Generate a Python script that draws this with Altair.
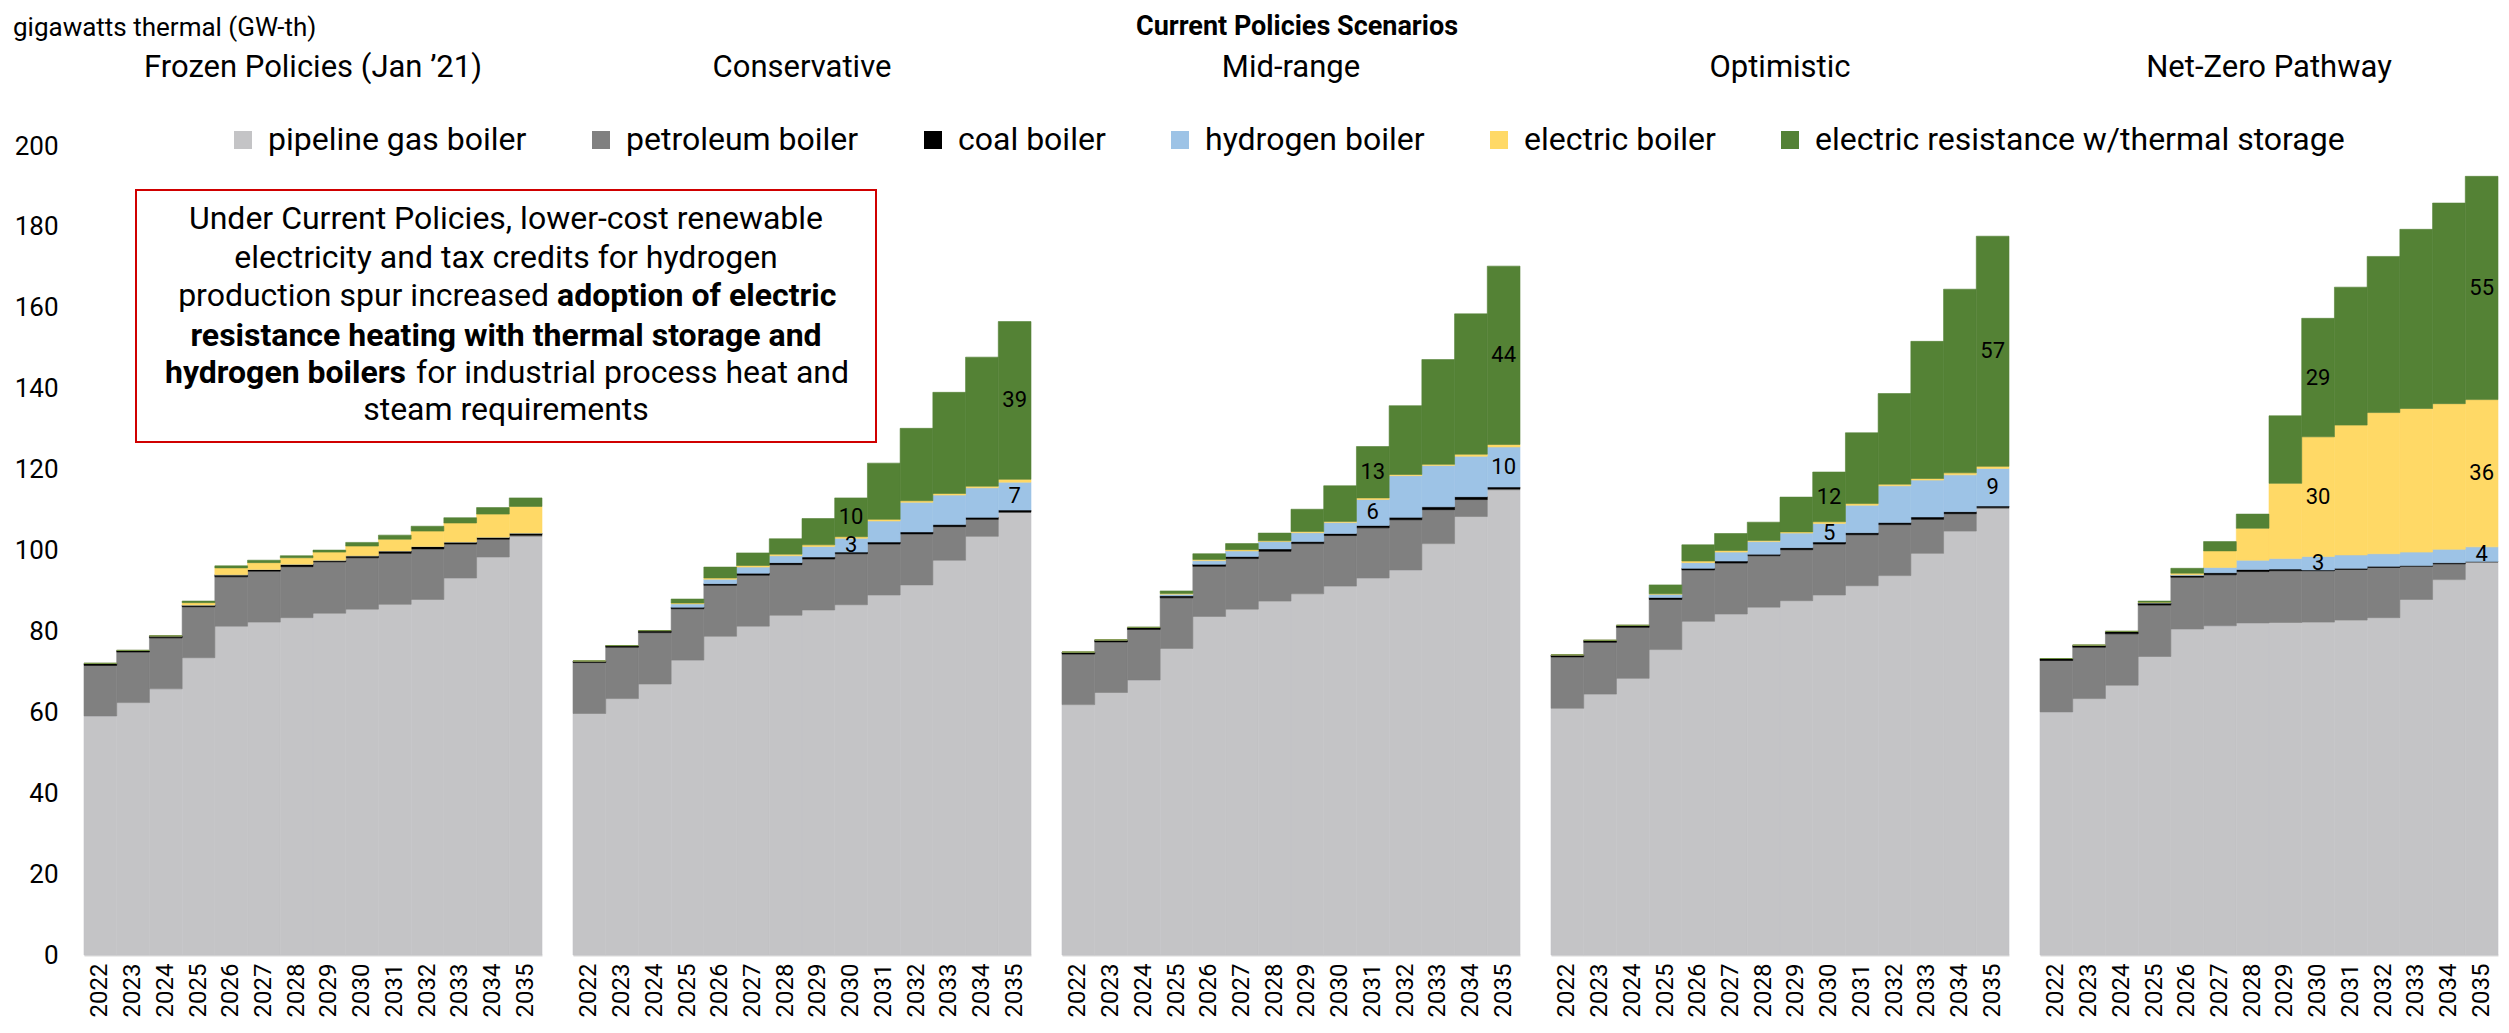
import altair as alt
import pandas as pd

years = list(range(2022, 2036))
scenarios = ["Frozen Policies (Jan ’21)", "Conservative", "Mid-range", "Optimistic", "Net-Zero Pathway"]
series = ["pipeline gas boiler", "petroleum boiler", "coal boiler", "hydrogen boiler",
          "electric boiler", "electric resistance w/thermal storage"]
colors = ["#C4C4C6", "#808080", "#000000", "#9DC3E6", "#FFD966", "#548235"]

# Frozen Policies (Jan '21)
frozen_gas = [59.1, 62.4, 65.8, 73.5, 81.3, 82.3, 83.4, 84.5, 85.5, 86.7, 87.9, 93.2, 98.4, 103.5]
frozen_pet = [12.5, 12.5, 12.6, 12.6, 12.2, 12.6, 12.6, 12.7, 12.7, 12.6, 12.5, 8.4, 4.4, 0.3]
frozen_coal = [0.5, 0.4, 0.5, 0.4, 0.5, 0.4, 0.6, 0.4, 0.5, 0.6, 0.6, 0.5, 0.5, 0.5]
frozen_h2 = [0, 0, 0, 0, 0, 0, 0, 0, 0, 0, 0, 0, 0, 0]
frozen_eb = [0, 0, 0, 0.6, 1.7, 1.7, 1.6, 2.0, 2.4, 2.9, 3.8, 4.7, 5.7, 6.6]
frozen_er = [0, 0, 0, 0.4, 0.5, 0.6, 0.5, 0.5, 0.9, 1.0, 1.2, 1.3, 1.6, 2.1]

# Conservative
cons_gas = [59.7, 63.4, 67.0, 72.9, 78.8, 81.3, 84.0, 85.3, 86.6, 89.0, 91.5, 97.6, 103.5, 109.4]
cons_pet = [12.6, 12.7, 12.7, 12.7, 12.6, 12.6, 12.5, 12.6, 12.6, 12.6, 12.6, 8.3, 4.2, 0.1]
cons_coal = [0.4, 0.4, 0.5, 0.4, 0.4, 0.5, 0.5, 0.5, 0.4, 0.5, 0.5, 0.5, 0.5, 0.5]
cons_h2 = [0, 0, 0, 0.8, 1.1, 1.5, 1.7, 2.6, 3.4, 5.2, 7.3, 7.3, 7.3, 6.9]
cons_eb = [0, 0, 0, 0.2, 0.3, 0.4, 0.4, 0.4, 0.4, 0.4, 0.4, 0.4, 0.4, 0.7]
cons_er = [0, 0, 0, 1.0, 2.7, 3.1, 3.8, 6.5, 9.6, 13.9, 17.9, 25.0, 31.9, 39.0]

# Mid-range
mid_gas = [61.9, 64.9, 68.0, 75.8, 83.7, 85.5, 87.5, 89.3, 91.2, 93.2, 95.2, 101.7, 108.4, 115.0]
mid_pet = [12.5, 12.5, 12.5, 12.5, 12.4, 12.5, 12.3, 12.4, 12.5, 12.4, 12.4, 8.4, 4.2, 0.2]
mid_coal = [0.5, 0.5, 0.5, 0.5, 0.5, 0.5, 0.6, 0.5, 0.5, 0.6, 0.6, 0.7, 0.7, 0.5]
mid_h2 = [0, 0, 0, 0.4, 0.9, 1.4, 1.8, 2.2, 2.7, 6.4, 10.3, 10.2, 10.0, 9.9]
mid_eb = [0, 0, 0, 0.2, 0.3, 0.3, 0.2, 0.3, 0.3, 0.4, 0.3, 0.3, 0.5, 0.6]
mid_er = [0, 0, 0, 0.6, 1.4, 1.5, 1.9, 5.5, 8.8, 12.7, 17.0, 25.9, 34.7, 44.1]

# Optimistic
opt_gas = [61.0, 64.5, 68.4, 75.5, 82.5, 84.3, 86.0, 87.6, 89.0, 91.3, 93.8, 99.3, 104.8, 110.4]
opt_pet = [12.7, 12.8, 12.6, 12.4, 12.7, 12.6, 12.7, 12.6, 12.6, 12.6, 12.6, 8.4, 4.3, 0.2]
opt_coal = [0.5, 0.5, 0.5, 0.5, 0.4, 0.5, 0.4, 0.5, 0.5, 0.5, 0.5, 0.6, 0.5, 0.4]
opt_h2 = [0, 0, 0, 0.8, 1.4, 2.2, 3.1, 3.6, 4.6, 6.8, 9.1, 9.1, 9.1, 9.3]
opt_eb = [0, 0, 0, 0.1, 0.4, 0.4, 0.3, 0.3, 0.4, 0.4, 0.4, 0.4, 0.5, 0.5]
opt_er = [0, 0, 0, 2.2, 4.0, 4.2, 4.5, 8.6, 12.3, 17.5, 22.4, 33.9, 45.4, 56.9]

# Net-Zero Pathway
nz_gas = [60.1, 63.4, 66.7, 73.8, 80.6, 81.4, 82.1, 82.2, 82.3, 82.8, 83.4, 87.9, 92.8, 97.1]
nz_pet = [12.7, 12.7, 12.7, 12.7, 12.8, 12.6, 12.7, 12.8, 12.7, 12.5, 12.4, 8.2, 3.9, 0.1]
nz_coal = [0.5, 0.5, 0.6, 0.5, 0.4, 0.5, 0.5, 0.4, 0.2, 0.3, 0.3, 0.2, 0.3, 0.1]
nz_h2 = [0, 0, 0, 0.1, 0.2, 1.3, 2.3, 2.6, 3.3, 3.3, 3.1, 3.3, 3.3, 3.6]
nz_eb = [0, 0, 0, 0.1, 0.4, 4.1, 7.9, 18.6, 29.6, 32.1, 34.9, 35.5, 36.0, 36.4]
nz_er = [0, 0, 0, 0.3, 1.2, 2.3, 3.5, 16.7, 29.3, 34.1, 38.6, 44.3, 49.6, 55.2]

values = {
    scenarios[0]: [frozen_gas, frozen_pet, frozen_coal, frozen_h2, frozen_eb, frozen_er],
    scenarios[1]: [cons_gas, cons_pet, cons_coal, cons_h2, cons_eb, cons_er],
    scenarios[2]: [mid_gas, mid_pet, mid_coal, mid_h2, mid_eb, mid_er],
    scenarios[3]: [opt_gas, opt_pet, opt_coal, opt_h2, opt_eb, opt_er],
    scenarios[4]: [nz_gas, nz_pet, nz_coal, nz_h2, nz_eb, nz_er],
}

# segments that carry a value label: (scenario index, year, series index)
label_scen = [1, 1, 1, 1, 2, 2, 2, 2, 3, 3, 3, 3, 4, 4, 4, 4, 4, 4]
label_year = [2030, 2030, 2035, 2035, 2031, 2031, 2035, 2035, 2030, 2030, 2035, 2035,
              2030, 2030, 2030, 2035, 2035, 2035]
label_ser = [3, 5, 3, 5, 3, 5, 3, 5, 3, 5, 3, 5, 3, 4, 5, 3, 4, 5]

heading = "Current Policies Scenarios"
unit_label = "gigawatts thermal (GW-th)"
note_lines = ["Under Current Policies, lower-cost renewable",
              "electricity and tax credits for hydrogen",
              "production spur increased",
              "adoption of electric",
              "resistance heating with thermal storage and",
              "hydrogen boilers",
              "for industrial process heat and",
              "steam requirements"]

rows = []
for s, arrs in values.items():
    for k, name in enumerate(series):
        for j, yr in enumerate(years):
            rows.append({"scenario": s, "year": yr, "series": name, "order": k, "value": arrs[k][j]})
df = pd.DataFrame(rows)

lrows = []
for si, yr, ki in zip(label_scen, label_year, label_ser):
    s = scenarios[si]
    j = years.index(yr)
    below = sum(values[s][k][j] for k in range(ki))
    v = values[s][ki][j]
    lrows.append({"scenario": s, "year": yr, "mid": below + v / 2, "text": f"{round(v)}"})
ldf = pd.DataFrame(lrows)

W, H = 458, 809
FONT = "Roboto"
yscale = alt.Scale(domain=[0, 200], nice=False)
xscale = alt.Scale(paddingInner=0, paddingOuter=0)
cscale = alt.Scale(domain=series, range=colors)

legend = alt.Legend(orient="none", legendX=143, legendY=-22, direction="horizontal", title=None,
                    symbolType="square", symbolSize=324, symbolStrokeWidth=0,
                    labelFontSize=32, labelFont=FONT, labelColor="#000000", labelOffset=9,
                    columnPadding=58, labelLimit=1000)


def one(text):
    return pd.DataFrame({"t": [text]})


panels = []
for i, name in enumerate(scenarios):
    d = df[df.scenario == name]
    if i == 0:
        yaxis = alt.Axis(values=list(range(0, 201, 20)), labelFontSize=26, labelFont=FONT,
                         labelColor="#000000", ticks=False, tickSize=0, domain=False, grid=False,
                         labelPadding=26, title=None)
    else:
        yaxis = None
    xaxis = alt.Axis(labelAngle=-90, labelFontSize=24, labelFont=FONT, labelColor="#000000",
                     ticks=False, tickSize=0, domainColor="#D9D9D9", domainWidth=2,
                     labelPadding=8, title=None, grid=False)
    bars = alt.Chart(d).mark_bar(strokeWidth=0.6).encode(
        x=alt.X("year:O", scale=xscale, axis=xaxis),
        y=alt.Y("value:Q", stack="zero", scale=yscale, axis=yaxis),
        color=alt.Color("series:N", scale=cscale, legend=legend),
        stroke=alt.Stroke("series:N", scale=cscale, legend=None),
        order=alt.Order("order:Q", sort="ascending"),
    )
    layers = [bars]
    ld = ldf[ldf.scenario == name]
    if len(ld):
        layers.append(alt.Chart(ld).mark_text(font=FONT, fontSize=22, color="#000000").encode(
            x=alt.X("year:O", scale=xscale, axis=xaxis),
            y=alt.Y("mid:Q", scale=yscale, axis=yaxis),
            text="text:N"))
    layers.append(alt.Chart(one(name)).mark_text(font=FONT, fontSize=31, color="#000000",
                                                 align="center", baseline="alphabetic").encode(
        x=alt.value(W / 2), y=alt.value(-69), text="t:N"))
    if i == 2:
        layers.append(alt.Chart(one(heading)).mark_text(font=FONT, fontSize=27, fontWeight="bold",
                                                        color="#000000", align="center",
                                                        baseline="alphabetic").encode(
            x=alt.value(W / 2 + 6), y=alt.value(-111), text="t:N"))
    if i == 0:
        layers.append(alt.Chart(one(unit_label)).mark_text(font=FONT, fontSize=26, color="#000000",
                                                           align="left", baseline="top").encode(
            x=alt.value(-71), y=alt.value(-131), text="t:N"))
        layers.append(alt.Chart(one("box")).mark_rect(fill="white", stroke="#D00000",
                                                      strokeWidth=2).encode(
            x=alt.value(52), x2=alt.value(792), y=alt.value(44), y2=alt.value(296)))
        # (text index, x, y, align, weight)
        specs = [(0, 422, 73, "center", "normal"),
                 (1, 422, 112, "center", "normal"),
                 (2, 465, 150, "right", "normal"),
                 (3, 473, 150, "left", "bold"),
                 (4, 422, 190, "center", "bold"),
                 (5, 322, 227, "right", "bold"),
                 (6, 332, 227, "left", "normal"),
                 (7, 422, 264, "center", "normal")]
        for ti, tx, ty, al, wt in specs:
            layers.append(alt.Chart(one(note_lines[ti])).mark_text(
                font=FONT, fontSize=32, fontWeight=wt, color="#000000", align=al,
                baseline="middle").encode(x=alt.value(tx), y=alt.value(ty), text="t:N"))
    panels.append(alt.layer(*layers).properties(width=W, height=H))

chart = alt.hconcat(*panels, spacing=31, bounds="flush").resolve_scale(
    color="shared", stroke="shared"
).properties(padding={"left": 5, "top": 5, "right": 0, "bottom": 0}).configure_view(stroke=None)

chart.save("out.html", embed_options={"renderer": "svg", "actions": False})
